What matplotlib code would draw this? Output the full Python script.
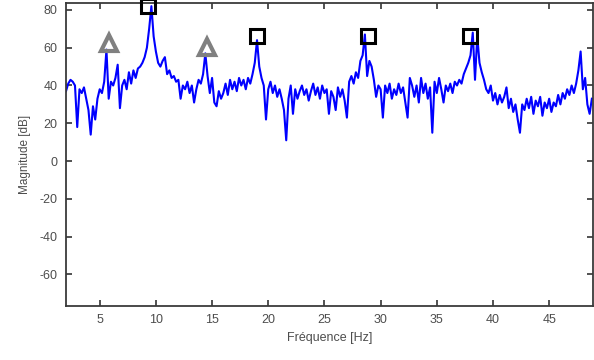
import numpy as np
import matplotlib
matplotlib.use("Agg")
import matplotlib.pyplot as plt

plt.rcParams['font.family'] = ['Liberation Sans', 'DejaVu Sans']
plt.rcParams['axes.unicode_minus'] = False

# Spectrum sampled every 0.2 Hz from 2.0 Hz
f_start = 2.0
f_step = 0.2
magnitude_db = [
    37, 41, 43, 42, 40,   # 2
    18, 38, 36, 39, 33,   # 3
    27, 14, 29, 22, 33,   # 4
    38, 36, 42, 59, 33,   # 5
    42, 40, 44, 51, 28,   # 6
    40, 43, 38, 47, 41,   # 7
    48, 44, 49, 50, 52,   # 8
    55, 60, 70, 82, 66,   # 9
    58, 52, 50, 53, 55,   # 10
    46, 48, 44, 45, 42,   # 11
    43, 33, 40, 38, 42,   # 12
    36, 40, 31, 38, 43,   # 13
    41, 46, 57, 45, 36,   # 14
    44, 31, 29, 37, 33,   # 15
    36, 41, 35, 43, 38,   # 16
    42, 37, 44, 40, 43,   # 17
    38, 44, 41, 46, 52,   # 18
    64, 50, 44, 40, 22,   # 19
    38, 42, 36, 40, 34,   # 20
    38, 33, 27, 11, 33,   # 21
    40, 25, 38, 33, 37,   # 22
    40, 35, 38, 32, 37,   # 23
    41, 35, 39, 33, 40,   # 24
    36, 38, 25, 37, 34,   # 25
    27, 39, 34, 38, 32,   # 26
    23, 42, 45, 41, 47,   # 27
    44, 53, 56, 67, 45,   # 28
    53, 50, 43, 34, 40,   # 29
    38, 23, 40, 36, 41,   # 30
    33, 38, 35, 41, 36,   # 31
    39, 31, 23, 44, 40,   # 32
    34, 40, 31, 44, 36,   # 33
    41, 33, 39, 15, 42,   # 34
    36, 44, 38, 31, 40,   # 35
    37, 41, 36, 42, 40,   # 36
    43, 41, 46, 49, 52,   # 37
    56, 68, 43, 66, 52,   # 38
    47, 43, 38, 36, 40,   # 39
    32, 36, 30, 35, 31,   # 40
    34, 39, 28, 33, 26,   # 41
    30, 22, 15, 30, 27,   # 42
    33, 28, 34, 25, 32,   # 43
    29, 34, 24, 31, 28,   # 44
    33, 26, 31, 29, 35,   # 45
    30, 36, 33, 38, 35,   # 46
    40, 36, 41, 48, 58,   # 47
    38, 44, 30, 25, 33,   # 48
]
freq_hz = f_start + f_step * np.arange(len(magnitude_db))

square_f = [9.34, 19.0, 28.9, 37.98]
square_db = [82.3, 66.4, 66.4, 66.4]
triangle_f = [5.79, 14.57]
triangle_db = [62.3, 60.2]

x_ticks = [5, 10, 15, 20, 25, 30, 35, 40, 45]
y_ticks = [-60, -40, -20, 0, 20, 40, 60, 80]

fig = plt.figure(figsize=(5.94, 3.6), dpi=100)
ax = fig.add_axes([0.1111, 0.15, 0.8872, 0.8403])

ax.plot(freq_hz, magnitude_db, color='#0000ff', lw=1.5)
ax.plot(square_f, square_db, ls='none', marker='s', ms=10, mfc='none',
        mec='black', mew=2.2, clip_on=False, zorder=5)
ax.plot(triangle_f, triangle_db, ls='none', marker='^', ms=11, mfc='none',
        mec='#808080', mew=3, clip_on=False, zorder=5)

ax.set_xlim(2, 48.9)
ax.set_ylim(-76.7, 83.4)
ax.set_xticks(x_ticks)
ax.set_yticks(y_ticks)
ax.tick_params(direction='in', length=4, width=1.2, top=True, right=True,
               labelsize=9, colors='#333333', labelcolor='#4d4d4d', pad=6)
for s in ax.spines.values():
    s.set_color('#3a3a3a')
    s.set_linewidth(1.3)
ax.set_xlabel('Fréquence [Hz]', fontsize=9, color='#4d4d4d', labelpad=4)
ax.set_ylabel('Magnitude [dB]', fontsize=8.5, color='#4d4d4d', labelpad=6)

fig.savefig('out.png', dpi=100)
